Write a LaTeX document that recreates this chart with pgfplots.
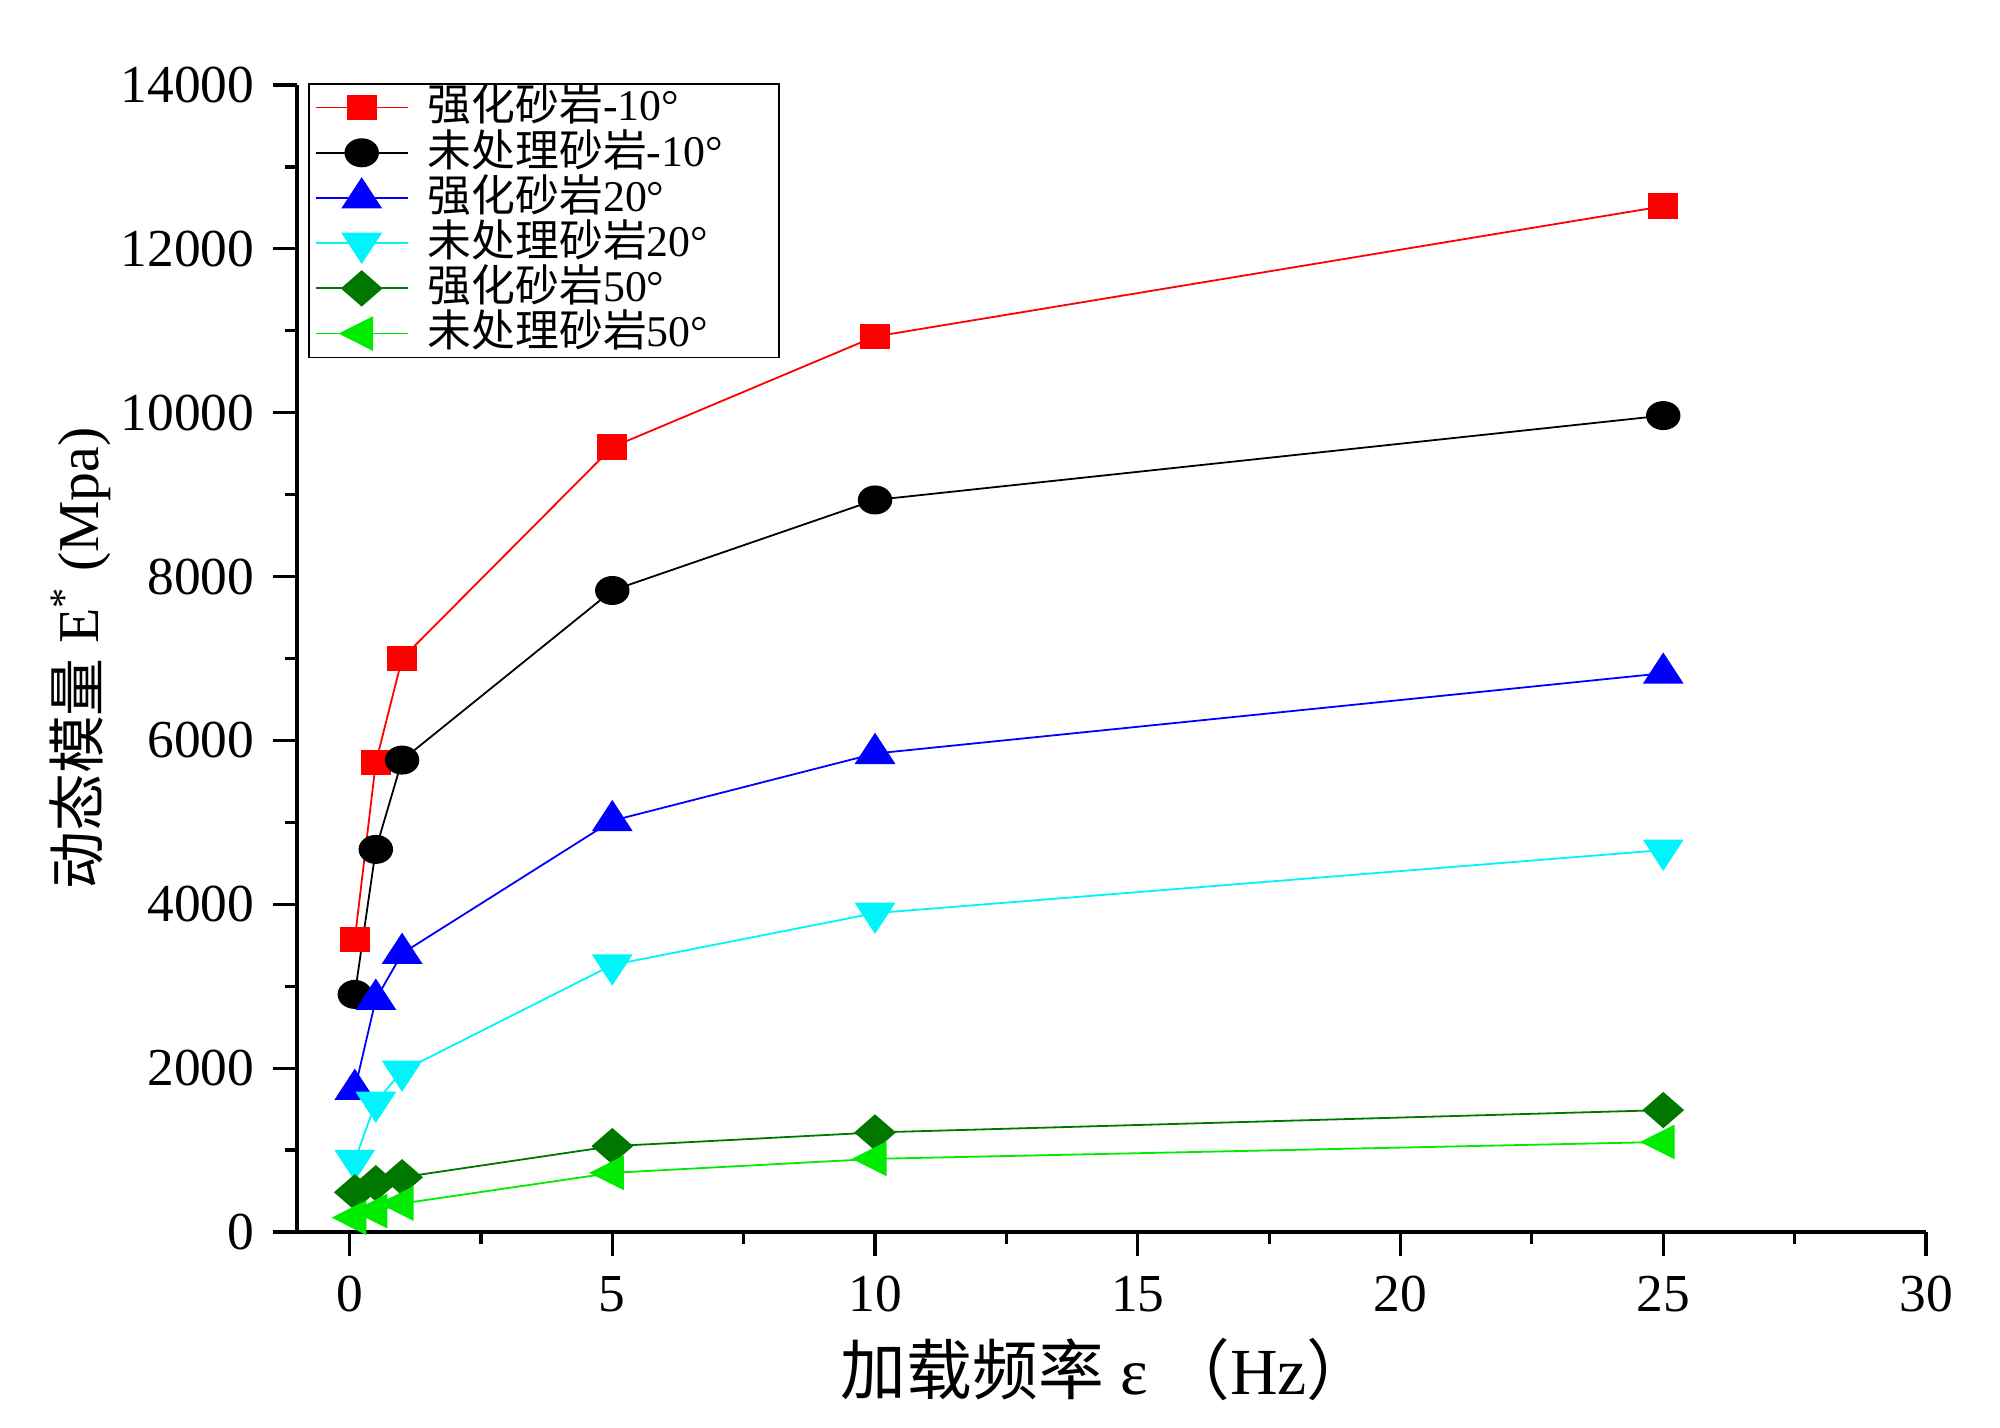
\documentclass[border=0pt]{standalone}
\usepackage{fontspec}
\setmainfont{Liberation Serif}
\newfontfamily\cjk{Noto Sans CJK SC}
\usepackage{pgfplots}
\pgfplotsset{compat=1.18}
\definecolor{dgreen}{RGB}{0,120,0}
\definecolor{lgreen}{RGB}{0,235,0}
\definecolor{cyanc}{RGB}{0,245,250}
\begin{document}
\begin{tikzpicture}
\path[use as bounding box] (-74.25bp,-49bp) rectangle (425.75bp,308bp);
\begin{axis}[
  at={(0,0)}, anchor=south west,
  scale only axis, width=407.25bp, height=286.75bp,
  xmin=-1, xmax=30, ymin=0, ymax=14000,
  axis x line*=bottom, axis y line*=left,
  axis line style={line width=1bp},
  xtick={0,5,...,30}, ytick={0,2000,...,14000},
  minor x tick num=1, minor y tick num=1,
  tick align=outside,
  major tick length=6bp, minor tick length=3bp,
  every tick/.style={black, line width=0.8bp},
  tick label style={font=\fontsize{13.4}{15}\selectfont},
  xticklabel style={yshift=-1.5bp},
  yticklabel style={xshift=-1.2bp, /pgf/number format/1000 sep={}},
  /pgf/number format/assume math mode=true,
  scaled y ticks=false,
  clip=false,
  xlabel={{\cjk 加载频率} ε {\cjk （}Hz{\cjk ）}},
  xlabel style={at={(axis description cs:0.497,0)}, anchor=center, yshift=-34.5bp, font=\fontsize{16.5}{19}\selectfont},
  ylabel={{\cjk 动态模量} E\textsuperscript{*} (Mpa)},
  ylabel style={at={([xshift=-54.25bp]axis description cs:0,0.5)}, anchor=center, font=\fontsize{14.5}{17}\selectfont},
  legend style={at={(axis description cs:0,1)}, anchor=north west, xshift=2.75bp, yshift=0.5bp,
    draw=black, line width=0.4bp, inner xsep=1.5bp, inner ysep=0.3bp,
    font=\fontsize{11}{12}\selectfont,
    nodes={inner xsep=1bp, inner ysep=0bp, text height=9bp, text depth=2.3bp}},
  legend cell align=left,
  legend image code/.code={\draw[mark repeat=2,mark phase=2] plot coordinates {(0bp,0bp) (11.5bp,0bp) (23bp,0bp)};},
  every axis plot/.append style={line width=0.45bp},
]
\addplot[color=red, mark=square*, mark size=3bp, mark options={xscale=1.17, solid}] coordinates {
 (0.1,3570) (0.5,5730) (1,7000) (5,9580) (10,10930) (25,12520)};
\addlegendentry{\hspace*{3.8bp}{\cjk 强化砂岩}-10°\hspace*{11.5bp}}
\addplot[color=black, mark=*, mark size=3.4bp, mark options={xscale=1.2, solid}] coordinates {
 (0.1,2900) (0.5,4670) (1,5760) (5,7830) (10,8935) (25,9965)};
\addlegendentry{\hspace*{3.8bp}{\cjk 未处理砂岩}-10°\hspace*{11.5bp}}
\addplot[color=blue, mark=triangle*, mark size=4.8bp, mark options={xscale=1.13, solid}] coordinates {
 (0.1,1740) (0.5,2840) (1,3400) (5,5020) (10,5840) (25,6820)};
\addlegendentry{\hspace*{3.8bp}{\cjk 强化砂岩}20°\hspace*{11.5bp}}
\addplot[color=cyanc, mark=triangle*, mark size=4.8bp, mark options={xscale=1.13, rotate=180, solid}] coordinates {
 (0.1,875) (0.5,1585) (1,1965) (5,3260) (10,3892) (25,4662)};
\addlegendentry{\hspace*{3.8bp}{\cjk 未处理砂岩}20°\hspace*{11.5bp}}
\addplot[color=dgreen, mark=diamond*, mark size=4.25bp, mark options={xscale=1.53, solid}] coordinates {
 (0.1,485) (0.5,595) (1,668) (5,1048) (10,1215) (25,1488)};
\addlegendentry{\hspace*{3.8bp}{\cjk 强化砂岩}50°\hspace*{11.5bp}}
\addplot[color=lgreen, mark=triangle*, mark size=4.6bp, mark options={xscale=1.15, rotate=90, solid}] coordinates {
 (0.1,175) (0.5,255) (1,348) (5,722) (10,893) (25,1099)};
\addlegendentry{\hspace*{3.8bp}{\cjk 未处理砂岩}50°\hspace*{11.5bp}}
\end{axis}
\end{tikzpicture}
\end{document}
